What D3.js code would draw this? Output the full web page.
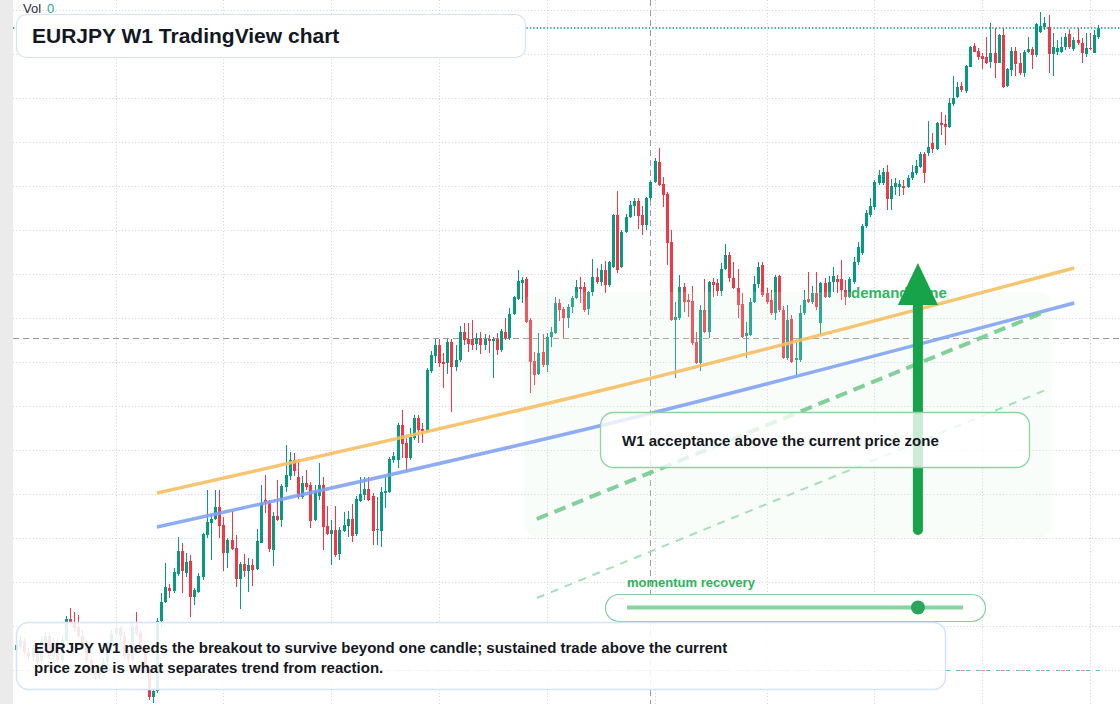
<!DOCTYPE html>
<html>
<head>
<meta charset="utf-8">
<title>EURJPY W1</title>
<script src="https://cdn.jsdelivr.net/npm/d3@7"></script>
<style>
  html, body { margin: 0; padding: 0; background: #fff; overflow: hidden; }
  svg { display: block; font-family: "Liberation Sans", Arial, sans-serif; }
</style>
</head>
<body>
<div id="chart-area"></div>
<script>
/*
*    EURJPY W1 - weekly candles with annotations
*/

// weekly candles: [open, high, low, close]
var ohlc = [
    [115.0,115.9,114.7,115.5],[115.4,116.4,115.1,116.0],[115.9,116.2,114.5,114.8],[114.8,115.2,114.0,114.4],[114.3,115.5,113.9,115.2],[115.2,115.4,113.5,113.8],[113.9,116.4,113.6,115.9],[115.8,116.8,115.5,116.4],[116.4,116.7,114.2,114.4],[114.4,116.2,114.0,115.8],
    [115.8,116.1,113.7,114.0],[114.0,116.4,113.8,116.0],[116.0,118.4,115.8,118.1],[118.1,119.2,117.4,117.7],[117.7,118.8,116.8,117.2],[117.3,118.5,116.2,116.4],[116.4,117.0,115.3,115.6],[115.6,116.0,113.7,114.0],[114.0,114.4,112.5,112.8],[112.9,113.4,112.0,112.4],
    [112.4,113.6,112.1,113.2],[113.2,114.2,112.9,113.8],[113.8,115.9,113.5,115.5],[115.5,117.0,115.3,116.6],[116.6,117.6,116.3,117.2],[117.2,117.4,116.0,116.4],[116.4,116.8,114.1,114.4],[114.6,115.0,113.6,114.0],[114.0,117.8,113.8,117.4],[117.4,118.8,116.4,116.7],
    [116.7,117.0,114.9,115.2],[115.2,115.6,112.8,113.0],[113.0,113.3,110.0,110.3],[110.3,111.2,109.7,110.9],[110.9,118.2,110.7,117.9],[117.9,120.7,117.2,119.8],[119.8,123.7,119.7,121.3],[121.2,121.6,120.2,120.9],[120.9,123.2,120.7,122.8],[122.6,126.3,122.4,124.9],
    [124.9,125.7,120.7,122.9],[122.7,124.7,122.3,123.8],[123.9,124.5,118.3,120.3],[120.3,121.2,119.5,121.0],[120.8,122.7,120.7,122.4],[122.3,126.7,122.0,126.6],[126.5,131.0,126.2,127.8],[127.7,128.5,124.0,128.1],[128.1,131.0,128.0,129.3],[129.3,131.0,126.2,127.4],
    [127.5,128.3,122.9,124.7],[124.7,126.2,123.2,126.0],[126.0,128.9,125.0,125.1],[125.2,126.5,121.3,122.1],[122.1,123.8,119.1,123.6],[123.6,124.6,122.3,122.9],[122.9,124.2,120.8,123.5],[123.5,124.1,121.4,123.0],[123.1,127.1,123.0,125.9],[125.7,131.5,125.7,129.7],
    [130.0,132.5,128.7,129.7],[129.7,130.0,124.8,125.1],[125.0,128.8,123.4,128.4],[128.4,132.0,127.9,128.0],[128.0,131.6,127.3,131.4],[131.3,135.5,130.8,132.5],[132.4,134.8,132.0,134.0],[134.0,134.7,132.4,132.9],[132.3,134.1,130.1,130.3],[130.3,132.4,130.1,131.7],
    [131.7,133.0,131.0,131.3],[131.5,131.8,127.2,127.9],[128.0,131.5,127.9,130.9],[130.4,133.7,130.0,131.5],[131.5,132.3,125.0,127.3],[127.4,129.4,126.5,126.6],[126.6,128.0,123.5,127.0],[127.0,129.4,124.3,124.5],[124.6,127.3,124.0,127.0],[126.9,128.8,126.8,127.5],
    [127.4,128.9,126.3,128.1],[128.1,129.6,125.8,126.4],[126.6,130.4,126.4,130.1],[129.9,132.3,129.8,130.6],[130.5,132.3,130.0,131.1],[131.1,132.3,129.9,130.0],[130.4,130.7,125.5,126.9],[127.0,130.3,125.5,127.1],[126.9,131.3,125.3,130.8],[130.7,132.3,129.2,130.9],
    [130.8,134.3,130.7,134.1],[134.0,134.8,133.7,134.4],[134.0,137.7,133.2,137.5],[137.5,139.0,134.2,135.6],[135.7,136.2,133.0,134.2],[134.2,137.2,134.0,136.3],[136.2,138.5,136.0,138.2],[138.2,138.5,135.7,137.0],[137.1,137.7,135.7,136.9],[137.0,143.2,136.8,143.0],
    [142.9,144.9,142.7,144.5],[144.4,146.1,143.7,145.5],[145.5,146.1,143.3,143.7],[143.8,144.7,141.2,143.6],[143.7,146.1,142.6,145.8],[145.8,146.1,138.8,143.3],[143.3,145.5,142.9,144.0],[144.0,147.4,143.8,146.8],[146.8,147.7,145.5,146.0],[146.1,147.7,144.8,145.6],
    [146.1,148.0,145.0,145.5],[145.6,146.7,145.0,146.2],[146.2,146.8,144.6,145.5],[145.5,146.6,145.0,146.1],[146.1,146.5,144.7,145.9],[145.9,146.3,142.2,146.1],[146.1,146.7,144.5,145.0],[145.0,147.1,144.8,146.9],[146.8,148.2,146.0,146.2],[146.2,149.2,146.0,148.6],
    [148.6,150.4,148.5,150.3],[150.1,153.0,150.0,151.9],[151.7,152.3,149.7,152.0],[152.1,152.3,147.7,147.8],[148.0,148.2,140.7,143.8],[143.9,144.8,141.5,142.5],[142.6,146.7,142.5,144.7],[144.8,146.6,143.3,143.5],[143.5,146.7,142.8,146.3],[146.3,147.3,145.3,146.8],
    [146.7,150.3,146.6,149.7],[149.7,150.1,147.9,149.0],[149.1,149.3,146.2,148.2],[148.2,149.6,147.2,149.3],[149.3,150.4,148.7,150.2],[150.2,152.0,150.1,151.3],[151.3,152.3,149.7,151.1],[151.3,151.8,148.8,149.0],[149.1,150.9,148.5,150.8],[150.8,154.1,150.4,152.3],
    [152.3,153.2,151.6,151.8],[151.8,153.6,151.4,153.0],[153.0,153.9,150.7,151.5],[151.5,153.9,151.3,153.8],[153.3,158.6,153.2,158.5],[158.5,160.9,152.7,153.0],[153.3,157.0,153.2,156.8],[156.8,158.6,156.7,158.3],[158.3,159.9,158.2,159.5],[159.4,160.2,158.4,159.9],
    [159.9,160.2,157.1,158.4],[158.5,159.4,156.5,157.5],[157.5,160.3,157.0,160.2],[160.2,161.9,160.0,161.8],[161.8,164.2,161.7,163.9],[163.8,165.2,161.4,161.5],[161.6,162.3,159.3,160.5],[160.6,160.8,153.5,155.7],[155.8,157.0,147.9,148.0],[148.0,149.8,142.2,148.3],
    [148.2,152.5,148.0,151.3],[151.3,151.7,148.8,149.8],[150.0,150.6,148.3,149.8],[149.9,151.4,145.5,145.7],[145.8,146.8,143.6,143.7],[143.7,149.5,142.9,149.0],[149.0,152.1,146.7,146.8],[146.8,151.9,146.2,151.8],[151.8,152.2,150.3,151.5],[151.7,152.1,150.4,150.9],
    [150.9,153.7,150.4,153.1],[153.1,155.6,153.0,154.5],[154.5,154.8,151.8,152.2],[152.2,153.8,151.1,151.2],[151.2,153.1,148.2,149.5],[149.6,150.7,146.2,146.3],[146.4,147.8,144.2,146.7],[146.5,150.2,146.4,149.8],[149.8,152.4,149.7,151.6],[151.6,153.8,151.2,153.3],
    [153.5,153.8,150.3,150.5],[150.7,151.2,149.6,149.8],[150.0,151.0,148.5,148.7],[148.7,152.5,148.0,152.3],[152.4,152.5,148.8,149.0],[149.0,149.4,144.1,144.2],[144.2,149.5,144.0,148.0],[148.1,148.5,143.7,143.8],[144.0,146.0,142.5,144.2],[144.0,149.5,143.8,148.7],
    [148.7,151.0,148.5,150.0],[150.1,152.8,149.7,149.8],[149.8,151.4,149.6,150.7],[150.7,152.8,149.0,149.3],[147.7,151.8,146.5,151.7],[151.7,152.2,150.2,150.3],[150.3,152.4,150.2,151.8],[151.8,153.3,150.8,152.4],[152.1,152.5,150.7,151.8],[152.1,154.0,150.0,151.0],
    [151.0,152.0,149.5,150.3],[150.3,152.3,150.2,152.1],[151.8,154.3,151.6,153.8],[153.8,155.8,153.5,155.3],[154.7,157.6,154.5,157.4],[157.4,159.0,157.2,158.7],[158.5,160.2,158.3,159.4],[159.3,162.0,159.0,161.8],[161.7,163.0,161.5,162.5],[161.7,163.2,161.5,162.8],
    [162.8,163.5,159.0,160.1],[160.1,162.1,159.0,161.4],[161.3,162.2,160.5,161.7],[161.3,162.0,160.4,161.6],[161.4,162.0,160.5,161.2],[161.3,162.5,161.2,162.2],[162.2,163.5,162.0,162.8],[162.7,164.0,162.5,163.4],[163.3,164.8,163.2,164.6],[164.6,164.8,161.7,162.7],
    [164.7,167.9,164.4,165.3],[165.7,166.7,164.7,165.1],[165.1,167.8,165.0,167.7],[167.7,168.8,166.5,167.5],[167.6,168.5,165.5,167.3],[167.3,170.2,167.2,169.7],[169.6,172.4,169.4,170.2],[170.3,171.8,170.2,171.3],[171.4,171.8,170.8,171.0],[170.9,173.5,170.7,173.4],
    [173.3,175.4,173.3,175.3],[175.4,175.7,174.8,174.8],[174.9,175.2,174.0,174.3],[174.4,174.7,173.1,174.1],[174.3,176.3,173.6,173.7],[173.8,177.7,173.2,174.7],[174.7,177.2,172.2,173.7],[173.7,176.6,173.7,176.5],[176.5,177.2,171.2,171.3],[171.4,173.2,171.3,173.1],
    [173.0,175.3,172.4,174.9],[174.9,175.3,172.4,173.6],[173.7,174.7,172.5,172.7],[172.7,175.0,172.3,174.8],[174.8,176.3,174.7,175.1],[175.1,175.3,173.1,174.5],[174.5,177.7,174.3,177.6],[176.8,178.8,176.7,177.4],[177.3,178.3,177.0,177.7],[177.3,178.5,172.7,174.6],
    [174.6,176.7,172.4,175.3],[174.8,176.0,174.5,175.2],[174.8,176.3,174.7,175.3],[175.3,176.7,175.0,176.3],[176.6,177.1,175.1,175.3],[175.1,176.3,174.9,176.0],[176.0,177.2,175.5,175.7],[175.7,176.2,173.7,174.7],[174.6,176.7,174.3,175.2],[175.2,176.7,175.0,175.1],
    [174.7,177.0,174.7,176.5],[176.3,177.5,176.1,177.2]
];

// grid (price levels, bar index of half-year marks)
var gridPrices = [179, 174.6, 170.2, 165.8, 161.4, 157, 152.6, 148.2, 143.8, 139.4, 135, 130.6, 126.2, 121.8, 117.4, 113];
var gridWeeks = [24, 50, 76, 102, 128, 154, 181, 207, 233, 259];

// crosshair and reference prices
var crossWeek = 153;
var crossPrice = 146.17;
var lowLinePrice = 113.0;

// drawn trend lines: [bar index, price]
var orangeTrend = [[34, 130.7], [144.6, 141.3], [255.2, 153.2]];
var blueTrend = [[34, 127.3], [144.6, 137.8], [255.2, 149.7]];
var dashTrend = [[125.6, 128.1], [248.6, 148.9]];
var dashTrendLow = [[125.6, 120.2], [248.9, 141.1]];

// demand zone and arrow
var zoneWeeks = [122.7, 249.8];
var zonePrices = [150.8, 126.3];
var arrowWeek = 217.5;
var arrowFrom = 127.0;
var arrowTo = 153.7;

// momentum gauge 0..1
var momentumValue = 0.866;

var titleText = 'EURJPY W1 TradingView chart';
var noteLines = [
    'EURJPY W1 needs the breakout to survive beyond one candle; sustained trade above the current',
    'price zone is what separates trend from reaction.'
];
var calloutText = 'W1 acceptance above the current price zone';

var width = 1120;
var height = 704;
var upColor = '#089981';
var downColor = '#f23645';

var svg = d3.select('#chart-area')
    .append('svg')
        .attr('width', width)
        .attr('height', height);

svg.append('rect')
    .attr('width', width)
    .attr('height', height)
    .attr('fill', '#ffffff');

// scales
var x = d3.scaleLinear()
    .domain([0, ohlc.length - 1])
    .range([16, 1098.3]);

var y = d3.scaleLinear()
    .domain([180, 110])
    .range([0, 700]);

// grid
svg.append('g').selectAll('line').data(gridPrices)
    .enter()
    .append('line')
    .attr('x1', 13)
    .attr('x2', width)
    .attr('y1', (d) => { return Math.round(y(d)) + 0.5 })
    .attr('y2', (d) => { return Math.round(y(d)) + 0.5 })
    .attr('stroke', '#cfd2d6')
    .attr('stroke-dasharray', '1,2.3');

svg.append('g').selectAll('line').data(gridWeeks)
    .enter()
    .append('line')
    .attr('x1', (d) => { return Math.round(x(d)) + 0.5 })
    .attr('x2', (d) => { return Math.round(x(d)) + 0.5 })
    .attr('y1', 0)
    .attr('y2', height)
    .attr('stroke', '#cfd2d6')
    .attr('stroke-dasharray', '1,2.3');

// crosshair
svg.append('line')
    .attr('x1', Math.round(x(crossWeek)) + 0.5)
    .attr('x2', Math.round(x(crossWeek)) + 0.5)
    .attr('y1', 0)
    .attr('y2', height)
    .attr('stroke', '#9a9a9a')
    .attr('stroke-dasharray', '6,4');

svg.append('line')
    .attr('x1', 13)
    .attr('x2', width)
    .attr('y1', Math.round(y(crossPrice)) + 0.5)
    .attr('y2', Math.round(y(crossPrice)) + 0.5)
    .attr('stroke', '#9a9a9a')
    .attr('stroke-dasharray', '6,4');

// low reference line (teal / red dashes)
var lowY = Math.round(y(lowLinePrice)) + 0.5;
svg.append('line')
    .attr('x1', x(0)).attr('x2', 1100)
    .attr('y1', lowY).attr('y2', lowY)
    .attr('stroke', '#5fc2b0')
    .attr('stroke-dasharray', '4,6');
svg.append('line')
    .attr('x1', x(0) + 5).attr('x2', 1100)
    .attr('y1', lowY).attr('y2', lowY)
    .attr('stroke', '#f28b94')
    .attr('stroke-dasharray', '4,16');

// last price line
var lastY = y(ohlc[ohlc.length - 1][3]);
svg.append('line')
    .attr('x1', 13)
    .attr('x2', width)
    .attr('y1', lastY)
    .attr('y2', lastY)
    .attr('stroke', upColor)
    .attr('stroke-width', 1.4)
    .attr('stroke-dasharray', '1.4,2');

// candles
var candles = svg.append('g').selectAll('g').data(ohlc)
    .enter()
    .append('g')
    .attr('fill', (d) => { return d[3] >= d[0] ? upColor : downColor })
    .attr('stroke', (d) => { return d[3] >= d[0] ? upColor : downColor });

candles.append('line')
    .attr('x1', (d, i) => { return Math.round(x(i)) + 0.5 })
    .attr('x2', (d, i) => { return Math.round(x(i)) + 0.5 })
    .attr('y1', (d) => { return y(d[1]) })
    .attr('y2', (d) => { return y(d[2]) })
    .attr('stroke-width', 1);

candles.append('rect')
    .attr('x', (d, i) => { return Math.round(x(i)) - 1 })
    .attr('y', (d) => { return y(Math.max(d[0], d[3])) })
    .attr('width', 3)
    .attr('height', (d) => { return Math.max(1, Math.abs(y(d[0]) - y(d[3]))) })
    .attr('stroke', 'none');

// left strip
svg.append('rect')
    .attr('x', 0)
    .attr('y', 0)
    .attr('width', 13)
    .attr('height', height)
    .attr('fill', '#ebebeb');

// demand zone panel
svg.append('rect')
    .attr('x', x(zoneWeeks[0]))
    .attr('y', y(zonePrices[0]))
    .attr('width', x(zoneWeeks[1]) - x(zoneWeeks[0]))
    .attr('height', y(zonePrices[1]) - y(zonePrices[0]))
    .attr('rx', 12)
    .attr('fill', '#dcf3e3')
    .attr('opacity', 0.18);

// trend curves
var trendLine = d3.line()
    .x((d) => { return x(d[0]) })
    .y((d) => { return y(d[1]) })
    .curve(d3.curveNatural);

svg.append('path')
    .attr('d', trendLine(orangeTrend))
    .attr('fill', 'none')
    .attr('stroke', '#f6bf62')
    .attr('stroke-opacity', 0.9)
    .attr('stroke-width', 3.5);

svg.append('path')
    .attr('d', trendLine(blueTrend))
    .attr('fill', 'none')
    .attr('stroke', '#7ea0f0')
    .attr('stroke-opacity', 0.88)
    .attr('stroke-width', 3.5);

svg.append('path')
    .attr('d', trendLine(dashTrend))
    .attr('fill', 'none')
    .attr('stroke', '#74cb8e')
    .attr('stroke-opacity', 0.9)
    .attr('stroke-width', 4)
    .attr('stroke-dasharray', '12,7');

svg.append('path')
    .attr('d', trendLine(dashTrendLow))
    .attr('fill', 'none')
    .attr('stroke', '#a6e0b8')
    .attr('stroke-width', 2)
    .attr('stroke-dasharray', '8,7');

// demand zone label
svg.append('text')
    .attr('x', 851)
    .attr('y', 298)
    .attr('font-size', '15px')
    .attr('font-weight', 'bold')
    .attr('fill', '#36b463')
    .text('demand zone');

// arrow
var ax = x(arrowWeek);
var tipY = y(arrowTo);
svg.append('line')
    .attr('x1', ax).attr('x2', ax)
    .attr('y1', y(arrowFrom))
    .attr('y2', tipY + 38)
    .attr('stroke', '#17a34a')
    .attr('stroke-width', 10)
    .attr('stroke-linecap', 'round');

svg.append('path')
    .attr('d', 'M' + ax + ',' + tipY + 'L' + (ax + 20) + ',' + (tipY + 42) + 'L' + (ax - 20) + ',' + (tipY + 42) + 'Z')
    .attr('fill', '#17a34a');

// callout
svg.append('rect')
    .attr('x', 600.5)
    .attr('y', 412.5)
    .attr('width', 429)
    .attr('height', 55)
    .attr('rx', 13)
    .attr('fill', '#ffffff')
    .attr('fill-opacity', 0.78)
    .attr('stroke', '#8fd3a3')
    .attr('stroke-width', 1.3);

svg.append('text')
    .attr('x', 622)
    .attr('y', 446)
    .attr('font-size', '15px')
    .attr('font-weight', 'bold')
    .attr('fill', '#131722')
    .text(calloutText);

// momentum gauge
var m = d3.scaleLinear().domain([0, 1]).range([627, 963]);

svg.append('text')
    .attr('x', 627)
    .attr('y', 587)
    .attr('font-size', '13px')
    .attr('font-weight', 'bold')
    .attr('fill', '#2fb35d')
    .text('momentum recovery');

svg.append('rect')
    .attr('x', 605.5)
    .attr('y', 594.5)
    .attr('width', 380)
    .attr('height', 27)
    .attr('rx', 13.5)
    .attr('fill', '#ffffff')
    .attr('stroke', '#7fd39a')
    .attr('stroke-width', 1.2);

svg.append('line')
    .attr('x1', m(0)).attr('x2', m(1))
    .attr('y1', 607.5).attr('y2', 607.5)
    .attr('stroke', '#86d4a0')
    .attr('stroke-width', 4);

svg.append('circle')
    .attr('cx', m(momentumValue))
    .attr('cy', 607.5)
    .attr('r', 7)
    .attr('fill', '#2aa65a');

// note box
svg.append('rect')
    .attr('x', 16.5)
    .attr('y', 622.5)
    .attr('width', 929)
    .attr('height', 67)
    .attr('rx', 12)
    .attr('fill', '#ffffff')
    .attr('fill-opacity', 0.88)
    .attr('stroke', '#d5e3fa')
    .attr('stroke-width', 1.5);

svg.append('g').selectAll('text').data(noteLines)
    .enter()
    .append('text')
    .attr('x', 34)
    .attr('y', (d, i) => { return 653 + i * 20 })
    .attr('font-size', '15px')
    .attr('font-weight', 'bold')
    .attr('fill', '#131722')
    .text((d) => { return d });

// title box
svg.append('rect')
    .attr('x', 16.5)
    .attr('y', 14.5)
    .attr('width', 509)
    .attr('height', 43)
    .attr('rx', 10)
    .attr('fill', '#ffffff')
    .attr('stroke', '#d5e3fa')
    .attr('stroke-width', 1.2);

svg.append('text')
    .attr('x', 32)
    .attr('y', 43)
    .attr('font-size', '21px')
    .attr('font-weight', 'bold')
    .attr('fill', '#131722')
    .text(titleText);

// volume legend
var vol = svg.append('text')
    .attr('x', 23)
    .attr('y', 13)
    .attr('font-size', '13px')
    .attr('fill', '#2a2e39');
vol.append('tspan').text('Vol');
vol.append('tspan').attr('dx', 6).attr('fill', '#22ab94').text('0');
</script>
</body>
</html>
